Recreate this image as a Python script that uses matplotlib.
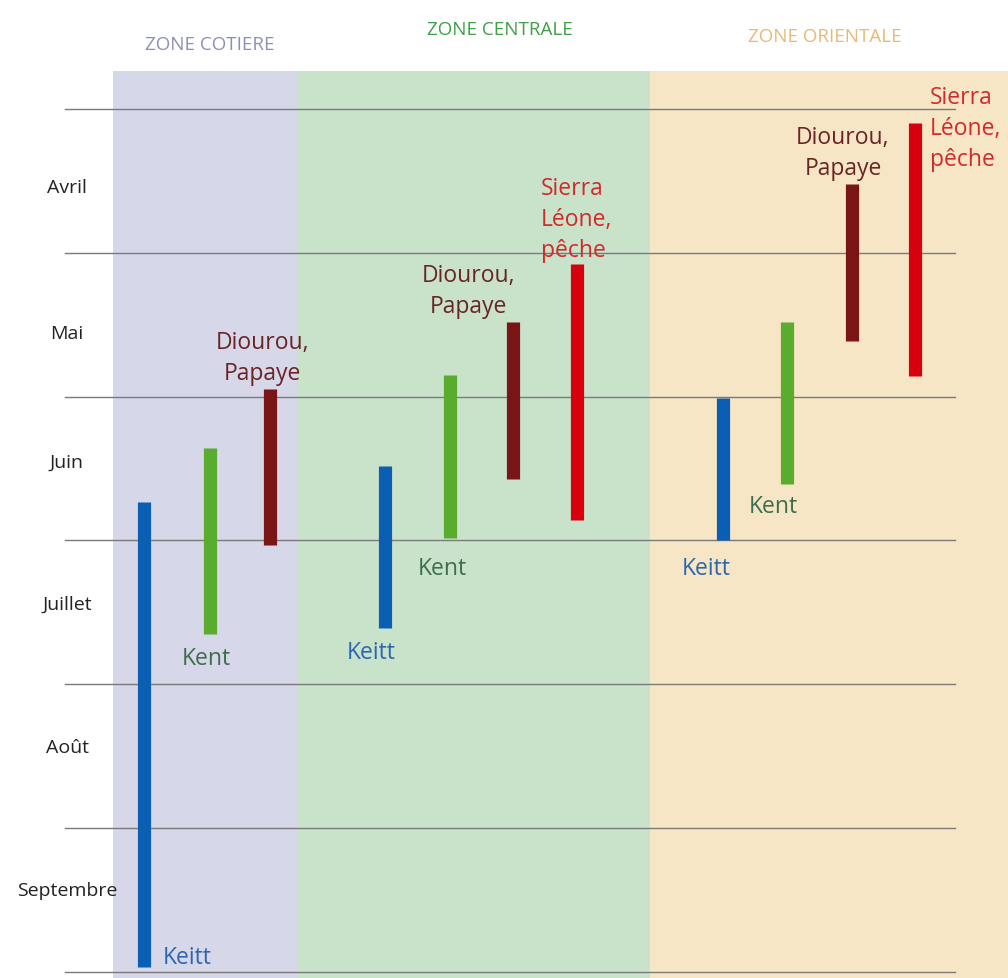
import numpy as np
import matplotlib
matplotlib.use('Agg')
import matplotlib.pyplot as plt

plt.rcParams['font.family'] = ['Open Sans', 'DejaVu Sans']

# Mois (0 = début avril, une unité = un mois)
mois = ['Avril', 'Mai', 'Juin', 'Juillet', 'Août', 'Septembre']
mois_y = [0.54, 1.56, 2.45, 3.44, 4.44, 5.43]

# Zones
zones = ['ZONE COTIERE', 'ZONE CENTRALE', 'ZONE ORIENTALE']

# Périodes de récolte par zone (début, fin en mois depuis début avril)
var_cotiere = ['Keitt', 'Kent', 'Diourou,\nPapaye']
deb_cotiere = [2.73, 2.36, 1.95]
fin_cotiere = [5.97, 3.65, 3.03]

var_centrale = ['Keitt', 'Kent', 'Diourou,\nPapaye', 'Sierra\nLéone,\npêche']
deb_centrale = [2.48, 1.85, 1.48, 1.08]
fin_centrale = [3.61, 2.98, 2.57, 2.86]

var_orientale = ['Keitt', 'Kent', 'Diourou,\nPapaye', 'Sierra\nLéone,\npêche']
deb_orientale = [2.01, 1.48, 0.52, 0.10]
fin_orientale = [3.00, 2.61, 1.61, 1.86]

# mise en page (pixels)
W, H = 1008, 979
y0_px, month_px = 110, 143.8
zone_edges = [113, 297, 650, 1008]
zone_bg = ['#d6d7e9', '#c9e3cb', '#f7e6c5']
zone_txt = ['#8d8fba', '#3f9e46', '#e9b877']
zone_title_xy = [(210, 45), (500, 30), (825, 37)]
bar_x = [[144, 210, 270], [385, 450, 513, 577], [723, 787, 852, 915]]

col_bar = {'Keitt': '#0a5fb5', 'Kent': '#5aac2f', 'Diourou': '#7a1515', 'Sierra': '#d6000f'}
col_txt = {'Keitt': '#2c66b0', 'Kent': '#3d6e4c', 'Diourou': '#6a2424', 'Sierra': '#d12a2a'}

# position des étiquettes: (dx px, dy px, ha, va, à partir de 'fin' ou 'deb')
lab_pos = [
    [(19, -2, 'left', 'bottom', 'fin'), (-4, -12, 'center', 'top', 'fin'), (-8, 4, 'center', 'bottom', 'deb')],
    [(-14, -12, 'center', 'top', 'fin'), (-8, -18, 'center', 'top', 'fin'), (-45, 4, 'center', 'bottom', 'deb'),
     (-36, 2, 'left', 'bottom', 'deb')],
    [(-17, -16, 'center', 'top', 'fin'), (-14, -10, 'center', 'top', 'fin'), (-9, 4, 'center', 'bottom', 'deb'),
     (15, -48, 'left', 'bottom', 'deb')],
]

fig = plt.figure(figsize=(W / 100, H / 100), dpi=100)
ax = fig.add_axes([0, 0, 1, 1])
ax.set_xlim(0, W)
ax.set_ylim((H - y0_px) / month_px, -y0_px / month_px)
ax.axis('off')

top_zone = (72 - y0_px) / month_px
bottom = ax.get_ylim()[0]
for i in range(3):
    ax.fill_between([zone_edges[i], zone_edges[i + 1]], top_zone, bottom, color=zone_bg[i], lw=0, zorder=0)
    ax.text(zone_title_xy[i][0], (zone_title_xy[i][1] - y0_px) / month_px, zones[i], color=zone_txt[i],
            fontsize=13.5, ha='center', va='center', stretch='semi-condensed')

# lignes des mois
for k in range(len(mois) + 1):
    ax.plot([65, 955], [k, k], color='#7a7a7a', lw=1, zorder=1)
for k, m in enumerate(mois):
    ax.text(67, mois_y[k], m, ha='center', va='center', fontsize=14, color='#222222')

donnees = [(var_cotiere, deb_cotiere, fin_cotiere),
           (var_centrale, deb_centrale, fin_centrale),
           (var_orientale, deb_orientale, fin_orientale)]

for z, (noms, deb, fin) in enumerate(donnees):
    for j, nom in enumerate(noms):
        cle = nom.split(',')[0].split('\n')[0]
        ax.plot([bar_x[z][j], bar_x[z][j]], [deb[j], fin[j]], color=col_bar[cle], lw=9.5,
                solid_capstyle='butt', zorder=3)
        dx, dy, ha, va, ref = lab_pos[z][j]
        yref = fin[j] if ref == 'fin' else deb[j]
        ax.annotate(nom, xy=(bar_x[z][j], yref), xytext=(dx * 0.72, dy * 0.72), textcoords='offset points',
                    ha=ha, va=va, fontsize=16.5, color=col_txt[cle], linespacing=1.4,
                    multialignment='center' if ha == 'center' else 'left', zorder=4)

plt.savefig('out.png', dpi=100, facecolor='white')
